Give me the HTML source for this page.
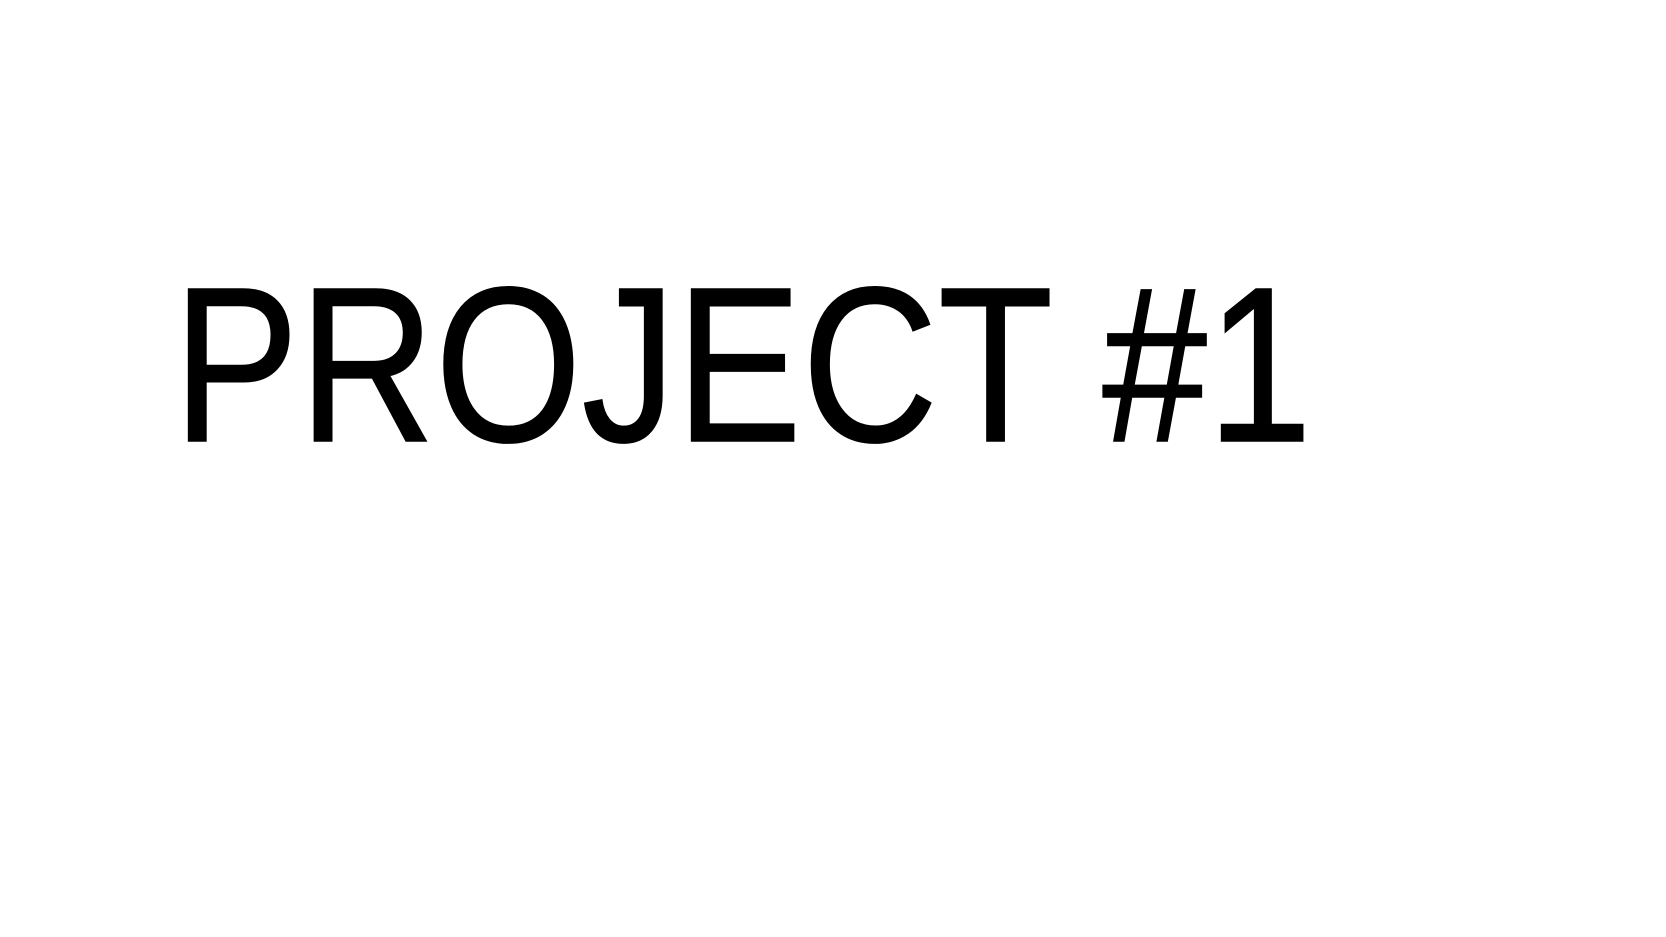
<!DOCTYPE html>
<html>
<head>
<meta charset="utf-8">
<style>
  html,body{margin:0;padding:0;background:#fff;}
  body{width:1666px;height:937px;overflow:hidden;}
  svg{display:block;}
</style>
</head>
<body>
<svg width="1666" height="937" viewBox="0 0 1666 937" xmlns="http://www.w3.org/2000/svg">
  <rect width="1666" height="937" fill="#fff"/>
  <text x="173" y="441" font-family="Liberation Sans, sans-serif" font-size="221" fill="#000" stroke="#000" stroke-width="1.5" textLength="1139" lengthAdjust="spacingAndGlyphs">PROJECT #1</text>
</svg>
</body>
</html>
